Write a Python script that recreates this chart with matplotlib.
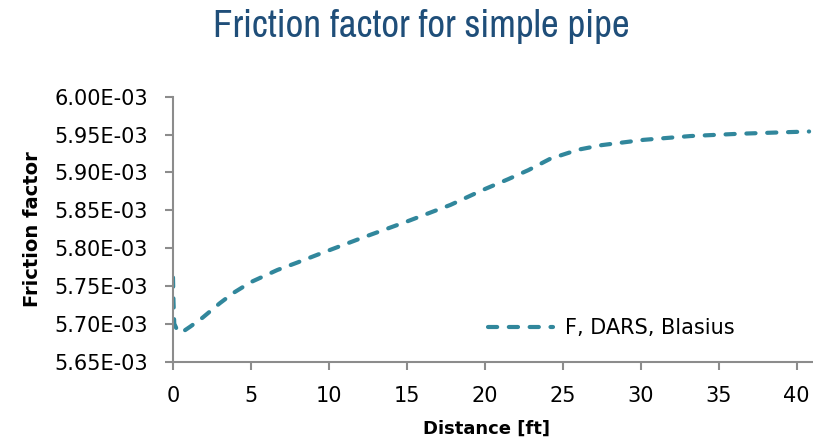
import matplotlib
matplotlib.use("Agg")
import matplotlib.pyplot as plt
from matplotlib.ticker import FuncFormatter, MultipleLocator
from matplotlib import font_manager

distance_ft = [0, 0.03, 0.08, 0.3, 0.6, 1.1, 1.9, 3.0, 3.9, 5.0, 6.7, 8.0, 9.5,
               12.2, 15.0, 17.8, 19.9, 21.5, 22.8, 24.2, 26.0, 27.5, 30.2, 33.2,
               36.3, 39.2, 40.8]
friction_e3 = [5.761, 5.73, 5.70, 5.690, 5.689, 5.696, 5.708, 5.727, 5.741, 5.755,
               5.771, 5.781, 5.793, 5.814, 5.835, 5.857, 5.877, 5.891, 5.903, 5.918,
               5.930, 5.936, 5.943, 5.948, 5.951, 5.953, 5.954]
friction = [v * 1e-3 for v in friction_e3]
series_name = "F, DARS, Blasius"
title = "Friction factor for simple pipe"
y_ticks = [5.65e-3, 5.70e-3, 5.75e-3, 5.80e-3, 5.85e-3, 5.90e-3, 5.95e-3, 6.00e-3]

# pick a condensed font for the title if one is installed
fonts = font_manager.fontManager.ttflist
title_font = None
for f in fonts:
    if ("Condensed" in f.name or "Narrow" in f.name) and "Bold" not in f.name:
        title_font = f.name
        break
if title_font is None:
    title_font = "Roboto"

fig = plt.figure(figsize=(8.13, 4.43), dpi=100)
ax = fig.add_axes([173 / 813, 1 - 361.5 / 443, 1 - 173 / 813, (361.5 - 96.7) / 443])

line_color = "#31879C"
ax.plot(distance_ft, friction, color=line_color, lw=3.0, dashes=(2.2, 2.8),
        dash_capstyle="round", solid_capstyle="round", label=series_name)

ax.set_xlim(0, 41.05)
ax.set_ylim(5.65e-3, 6.00e-3)
ax.xaxis.set_major_locator(MultipleLocator(5))
ax.set_yticks(y_ticks)
ax.yaxis.set_major_formatter(FuncFormatter(lambda v, p: f"{v:.2E}"))

for s in ["top", "right"]:
    ax.spines[s].set_visible(False)
for s in ["left", "bottom"]:
    ax.spines[s].set_color("#8C8C8C")
    ax.spines[s].set_linewidth(1.5)
ax.tick_params(axis="both", direction="out", length=6, width=1.5, color="#8C8C8C",
               labelsize=15, labelcolor="black")
ax.tick_params(axis="x", pad=12)
ax.tick_params(axis="y", pad=12)

ax.set_xlabel("Distance [ft]", fontsize=13, fontweight="bold")
ax.xaxis.set_label_coords((486 - 173) / 640, (361.5 - 420) / 264.8)
ax.xaxis.label.set_va("top")
ax.set_ylabel("Friction factor", fontsize=14, fontweight="bold")
ax.yaxis.set_label_coords((42 - 173) / 640, 0.5)

t = fig.text(421 / 813, 1 - 37 / 443, title, ha="center", va="baseline",
             fontsize=25, color="#1F4E79", family=title_font)
fig.canvas.draw()
w = t.get_window_extent().width
t.set_fontsize(min(28, 25 * 458 / w))

leg = ax.legend(loc="center left", bbox_to_anchor=((488 - 173) / 640, (361.5 - 328) / 264.8),
                frameon=False, fontsize=15, handlelength=3.1, handletextpad=0.6,
                borderpad=0, borderaxespad=0)

fig.savefig("out.png", dpi=100)
